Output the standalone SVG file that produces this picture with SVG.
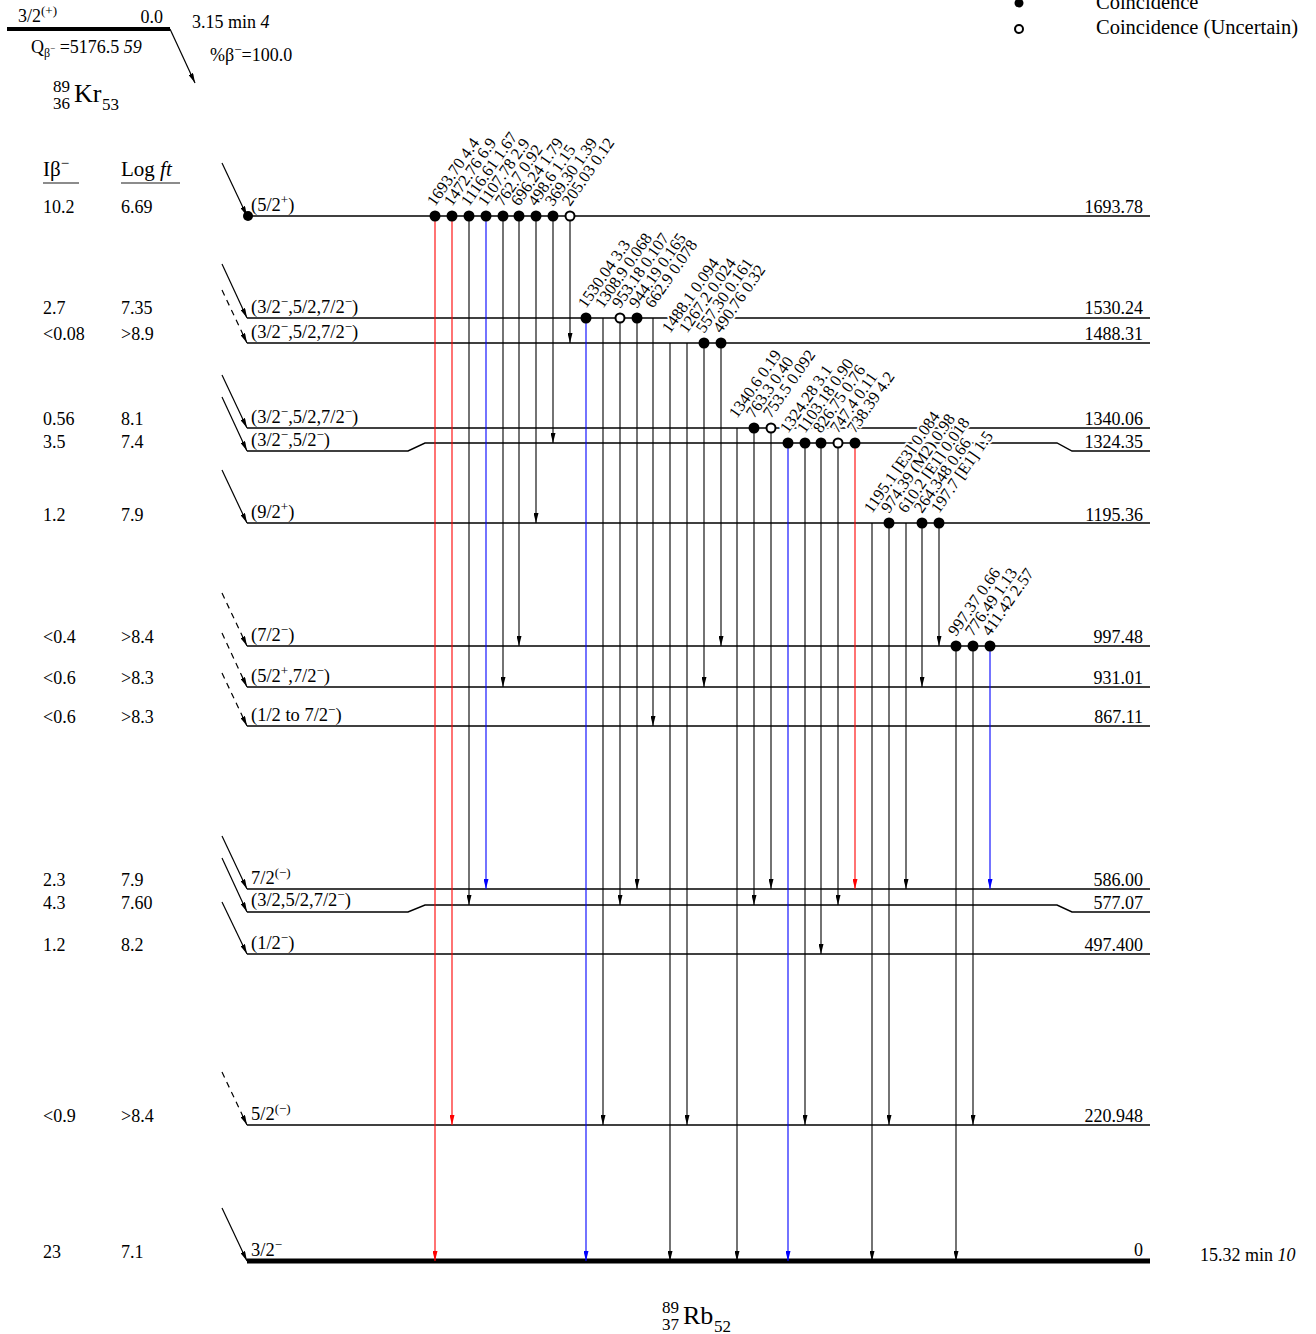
<svg xmlns="http://www.w3.org/2000/svg" width="1316" height="1334" viewBox="0 0 1316 1334">
<style>
text{font-family:"Liberation Serif","Times New Roman",serif;fill:#000}
.t{font-size:18px}
.h{font-size:21px}
.p{font-size:18px}
.sp{font-size:18.5px}
.su{font-size:13px}
.en{font-size:18px;text-anchor:end}
.gl{font-size:16.5px;stroke:#fff;stroke-width:4;paint-order:stroke;stroke-linejoin:round}
.lv{stroke:#000;stroke-width:1.4;fill:none}
.g{stroke:#000;stroke-width:1.1}
.gr{stroke:#f00;stroke-width:1.1}
.gb{stroke:#00f;stroke-width:1.1}
.b{stroke:#000;stroke-width:1.2}
.bd{stroke:#000;stroke-width:1.2;stroke-dasharray:6 5}
.cf{fill:#000}
.co{fill:#fff;stroke:#000;stroke-width:2}
</style>
<defs>
<marker id="ak" viewBox="0 0 10 5" refX="10" refY="2.5" markerWidth="10" markerHeight="5" markerUnits="userSpaceOnUse" orient="auto"><path d="M0,0 L10,2.5 L0,5 z" fill="#000"/></marker>
<marker id="ar" viewBox="0 0 10 5" refX="10" refY="2.5" markerWidth="10" markerHeight="5" markerUnits="userSpaceOnUse" orient="auto"><path d="M0,0 L10,2.5 L0,5 z" fill="#f00"/></marker>
<marker id="ab" viewBox="0 0 10 5" refX="10" refY="2.5" markerWidth="10" markerHeight="5" markerUnits="userSpaceOnUse" orient="auto"><path d="M0,0 L10,2.5 L0,5 z" fill="#00f"/></marker>
</defs>

<g id="parent">
<line x1="7" y1="29" x2="170" y2="29" stroke="#000" stroke-width="4"/>
<text class="p" x="18" y="22">3/2<tspan class="su" dy="-7">(+)</tspan></text>
<text class="p" x="163" y="23" text-anchor="end">0.0</text>
<text class="p" x="31" y="53">Q<tspan font-size="12" dy="4">β</tspan><tspan font-size="9" dy="-6">−</tspan><tspan dy="2"> =5176.5 </tspan><tspan font-style="italic">59</tspan></text>
<text class="p" x="192" y="28">3.15 min <tspan font-style="italic">4</tspan></text>
<text class="p" x="210" y="61">%β<tspan class="su" dy="-7">−</tspan><tspan dy="7">=100.0</tspan></text>
<text x="53" y="92" font-size="17">89</text>
<text x="53" y="109" font-size="17">36</text>
<text x="74" y="102" font-size="26">Kr</text>
<text x="102" y="110" font-size="17">53</text>
</g>

<g id="legend">
<circle cx="1019" cy="3" r="4.5" class="cf"/>
<text x="1096" y="9" font-size="20.5">Coincidence</text>
<circle cx="1019" cy="29" r="4" class="co"/>
<text x="1096" y="34" font-size="20.5">Coincidence (Uncertain)</text>
</g>

<g id="headers">
<text class="h" x="43" y="176">Iβ<tspan font-size="15" dy="-8">−</tspan></text>
<line x1="43" y1="183" x2="79" y2="183" stroke="#666" stroke-width="1.5"/>
<text class="h" x="121" y="176">Log <tspan font-style="italic">ft</tspan></text>
<line x1="121" y1="183" x2="180" y2="183" stroke="#666" stroke-width="1.5"/>
</g>

<g id="levels">
<g id="lvl-1693"><line class="lv" x1="247" y1="216" x2="1150" y2="216"/>
<text class="sp" x="251" y="211">(5/2<tspan class="su" dy="-7">+</tspan><tspan dy="7">)</tspan></text>
<text class="en" x="1143" y="213">1693.78</text><text class="t" x="43" y="213">10.2</text><text class="t" x="121" y="213">6.69</text></g>

<g id="lvl-1530"><line class="lv" x1="247" y1="318" x2="1150" y2="318"/>
<text class="sp" x="251" y="313">(3/2<tspan class="su" dy="-7">−</tspan><tspan dy="7">,5/2,7/2</tspan><tspan class="su" dy="-7">−</tspan><tspan dy="7">)</tspan></text>
<text class="en" x="1143" y="314">1530.24</text><text class="t" x="43" y="314">2.7</text><text class="t" x="121" y="314">7.35</text></g>

<g id="lvl-1488"><line class="lv" x1="247" y1="343" x2="1150" y2="343"/>
<text class="sp" x="251" y="338">(3/2<tspan class="su" dy="-7">−</tspan><tspan dy="7">,5/2,7/2</tspan><tspan class="su" dy="-7">−</tspan><tspan dy="7">)</tspan></text>
<text class="en" x="1143" y="340">1488.31</text><text class="t" x="43" y="340">&lt;0.08</text><text class="t" x="121" y="340">&gt;8.9</text></g>

<g id="lvl-1340"><line class="lv" x1="247" y1="428" x2="1150" y2="428"/>
<text class="sp" x="251" y="423">(3/2<tspan class="su" dy="-7">−</tspan><tspan dy="7">,5/2,7/2</tspan><tspan class="su" dy="-7">−</tspan><tspan dy="7">)</tspan></text>
<text class="en" x="1143" y="425">1340.06</text><text class="t" x="43" y="425">0.56</text><text class="t" x="121" y="425">8.1</text></g>

<g id="lvl-1324"><path class="lv" d="M247,451 H408 L425,443 H1057 L1072,451 H1150"/>
<text class="sp" x="251" y="446">(3/2<tspan class="su" dy="-7">−</tspan><tspan dy="7">,5/2</tspan><tspan class="su" dy="-7">−</tspan><tspan dy="7">)</tspan></text>
<text class="en" x="1143" y="448">1324.35</text><text class="t" x="43" y="448">3.5</text><text class="t" x="121" y="448">7.4</text></g>

<g id="lvl-1195"><line class="lv" x1="247" y1="523" x2="1150" y2="523"/>
<text class="sp" x="251" y="518">(9/2<tspan class="su" dy="-7">+</tspan><tspan dy="7">)</tspan></text>
<text class="en" x="1143" y="521">1195.36</text><text class="t" x="43" y="521">1.2</text><text class="t" x="121" y="521">7.9</text></g>

<g id="lvl-997"><line class="lv" x1="247" y1="646" x2="1150" y2="646"/>
<text class="sp" x="251" y="641">(7/2<tspan class="su" dy="-7">−</tspan><tspan dy="7">)</tspan></text>
<text class="en" x="1143" y="643">997.48</text><text class="t" x="43" y="643">&lt;0.4</text><text class="t" x="121" y="643">&gt;8.4</text></g>

<g id="lvl-931"><line class="lv" x1="247" y1="687" x2="1150" y2="687"/>
<text class="sp" x="251" y="682">(5/2<tspan class="su" dy="-7">+</tspan><tspan dy="7">,7/2</tspan><tspan class="su" dy="-7">−</tspan><tspan dy="7">)</tspan></text>
<text class="en" x="1143" y="684">931.01</text><text class="t" x="43" y="684">&lt;0.6</text><text class="t" x="121" y="684">&gt;8.3</text></g>

<g id="lvl-867"><line class="lv" x1="247" y1="726" x2="1150" y2="726"/>
<text class="sp" x="251" y="721">(1/2 to 7/2<tspan class="su" dy="-7">−</tspan><tspan dy="7">)</tspan></text>
<text class="en" x="1143" y="723">867.11</text><text class="t" x="43" y="723">&lt;0.6</text><text class="t" x="121" y="723">&gt;8.3</text></g>

<g id="lvl-586"><line class="lv" x1="247" y1="889" x2="1150" y2="889"/>
<text class="sp" x="251" y="884">7/2<tspan class="su" dy="-7">(−)</tspan></text>
<text class="en" x="1143" y="886">586.00</text><text class="t" x="43" y="886">2.3</text><text class="t" x="121" y="886">7.9</text></g>

<g id="lvl-577"><path class="lv" d="M247,912 H408 L425,905 H1057 L1072,912 H1150"/>
<text class="sp" x="251" y="906">(3/2,5/2,7/2<tspan class="su" dy="-7">−</tspan><tspan dy="7">)</tspan></text>
<text class="en" x="1143" y="909">577.07</text><text class="t" x="43" y="909">4.3</text><text class="t" x="121" y="909">7.60</text></g>

<g id="lvl-497"><line class="lv" x1="247" y1="954" x2="1150" y2="954"/>
<text class="sp" x="251" y="949">(1/2<tspan class="su" dy="-7">−</tspan><tspan dy="7">)</tspan></text>
<text class="en" x="1143" y="951">497.400</text><text class="t" x="43" y="951">1.2</text><text class="t" x="121" y="951">8.2</text></g>

<g id="lvl-220"><line class="lv" x1="247" y1="1125" x2="1150" y2="1125"/>
<text class="sp" x="251" y="1120">5/2<tspan class="su" dy="-7">(−)</tspan></text>
<text class="en" x="1143" y="1122">220.948</text><text class="t" x="43" y="1122">&lt;0.9</text><text class="t" x="121" y="1122">&gt;8.4</text></g>

<g id="lvl-0"><line x1="247" y1="1261" x2="1150" y2="1261" stroke="#000" stroke-width="5"/>
<text class="sp" x="251" y="1256">3/2<tspan class="su" dy="-7">−</tspan></text>
<text class="en" x="1143" y="1256">0</text><text class="t" x="43" y="1258">23</text><text class="t" x="121" y="1258">7.1</text>
<text class="t" x="1200" y="1261">15.32 min <tspan font-style="italic">10</tspan></text></g>
</g>

<g id="daughter">
<text x="662" y="1313" font-size="17">89</text>
<text x="662" y="1330" font-size="17">37</text>
<text x="683" y="1324" font-size="26">Rb</text>
<text x="714" y="1332" font-size="17">52</text>
</g>

<g id="connectors">
<line class="b" x1="170" y1="29" x2="195" y2="83" marker-end="url(#ak)"/>
<line class="b" x1="222" y1="163" x2="247" y2="216" marker-end="url(#ak)"/>
<circle class="cf" cx="248" cy="216" r="5"/>
<line class="b" x1="222" y1="264" x2="247" y2="318" marker-end="url(#ak)"/>
<line class="bd" x1="222" y1="290" x2="247" y2="343" marker-end="url(#ak)"/>
<line class="b" x1="222" y1="375" x2="247" y2="428" marker-end="url(#ak)"/>
<line class="b" x1="222" y1="397" x2="247" y2="451" marker-end="url(#ak)"/>
<line class="b" x1="222" y1="470" x2="247" y2="523" marker-end="url(#ak)"/>
<line class="bd" x1="222" y1="593" x2="247" y2="646" marker-end="url(#ak)"/>
<line class="bd" x1="222" y1="633" x2="247" y2="687" marker-end="url(#ak)"/>
<line class="bd" x1="222" y1="673" x2="247" y2="726" marker-end="url(#ak)"/>
<line class="b" x1="222" y1="836" x2="247" y2="889" marker-end="url(#ak)"/>
<line class="b" x1="222" y1="858" x2="247" y2="912" marker-end="url(#ak)"/>
<line class="b" x1="222" y1="902" x2="247" y2="954" marker-end="url(#ak)"/>
<line class="bd" x1="222" y1="1072" x2="247" y2="1125" marker-end="url(#ak)"/>
<line class="b" x1="222" y1="1208" x2="247" y2="1261" marker-end="url(#ak)"/>

<line class="gr" x1="435" y1="216" x2="435" y2="1261" marker-end="url(#ar)"/>
<line class="gr" x1="452" y1="216" x2="452" y2="1125" marker-end="url(#ar)"/>
<line class="g" x1="469" y1="216" x2="469" y2="905" marker-end="url(#ak)"/>
<line class="gb" x1="486" y1="216" x2="486" y2="889" marker-end="url(#ab)"/>
<line class="g" x1="503" y1="216" x2="503" y2="687" marker-end="url(#ak)"/>
<line class="g" x1="519" y1="216" x2="519" y2="646" marker-end="url(#ak)"/>
<line class="g" x1="536" y1="216" x2="536" y2="523" marker-end="url(#ak)"/>
<line class="g" x1="553" y1="216" x2="553" y2="443" marker-end="url(#ak)"/>
<line class="g" x1="570" y1="216" x2="570" y2="343" marker-end="url(#ak)"/>

<line class="gb" x1="586" y1="318" x2="586" y2="1261" marker-end="url(#ab)"/>
<line class="g" x1="603" y1="318" x2="603" y2="1125" marker-end="url(#ak)"/>
<line class="g" x1="620" y1="318" x2="620" y2="905" marker-end="url(#ak)"/>
<line class="g" x1="637" y1="318" x2="637" y2="889" marker-end="url(#ak)"/>
<line class="g" x1="653" y1="318" x2="653" y2="726" marker-end="url(#ak)"/>

<line class="g" x1="670" y1="343" x2="670" y2="1261" marker-end="url(#ak)"/>
<line class="g" x1="687" y1="343" x2="687" y2="1125" marker-end="url(#ak)"/>
<line class="g" x1="704" y1="343" x2="704" y2="687" marker-end="url(#ak)"/>
<line class="g" x1="721" y1="343" x2="721" y2="646" marker-end="url(#ak)"/>

<line class="g" x1="737" y1="428" x2="737" y2="1261" marker-end="url(#ak)"/>
<line class="g" x1="754" y1="428" x2="754" y2="905" marker-end="url(#ak)"/>
<line class="g" x1="771" y1="428" x2="771" y2="889" marker-end="url(#ak)"/>

<line class="gb" x1="788" y1="443" x2="788" y2="1261" marker-end="url(#ab)"/>
<line class="g" x1="805" y1="443" x2="805" y2="1125" marker-end="url(#ak)"/>
<line class="g" x1="821" y1="443" x2="821" y2="954" marker-end="url(#ak)"/>
<line class="g" x1="838" y1="443" x2="838" y2="905" marker-end="url(#ak)"/>
<line class="gr" x1="855" y1="443" x2="855" y2="889" marker-end="url(#ar)"/>

<line class="g" x1="872" y1="523" x2="872" y2="1261" marker-end="url(#ak)"/>
<line class="g" x1="889" y1="523" x2="889" y2="1125" marker-end="url(#ak)"/>
<line class="g" x1="906" y1="523" x2="906" y2="889" marker-end="url(#ak)"/>
<line class="g" x1="922" y1="523" x2="922" y2="687" marker-end="url(#ak)"/>
<line class="g" x1="939" y1="523" x2="939" y2="646" marker-end="url(#ak)"/>

<line class="g" x1="956" y1="646" x2="956" y2="1261" marker-end="url(#ak)"/>
<line class="g" x1="973" y1="646" x2="973" y2="1125" marker-end="url(#ak)"/>
<line class="gb" x1="990" y1="646" x2="990" y2="889" marker-end="url(#ab)"/>
</g>

<g id="gamma-labels">
<text class="gl" transform="translate(435,207) rotate(-55)">1693.70 4.4</text>
<text class="gl" transform="translate(452,207) rotate(-55)">1472.76 6.9</text>
<text class="gl" transform="translate(469,207) rotate(-55)">1116.61 1.67</text>
<text class="gl" transform="translate(486,207) rotate(-55)">1107.78 2.9</text>
<text class="gl" transform="translate(503,207) rotate(-55)">762.7 0.92</text>
<text class="gl" transform="translate(519,207) rotate(-55)">696.24 1.79</text>
<text class="gl" transform="translate(536,207) rotate(-55)">498.6 1.15</text>
<text class="gl" transform="translate(553,207) rotate(-55)">369.30 1.39</text>
<text class="gl" transform="translate(570,207) rotate(-55)">205.03 0.12</text>

<text class="gl" transform="translate(586,309) rotate(-55)">1530.04 3.3</text>
<text class="gl" transform="translate(603,309) rotate(-55)">1308.9 0.068</text>
<text class="gl" transform="translate(620,309) rotate(-55)">953.18 0.107</text>
<text class="gl" transform="translate(637,309) rotate(-55)">944.19 0.165</text>
<text class="gl" transform="translate(653,309) rotate(-55)">662.9 0.078</text>

<text class="gl" transform="translate(670,334) rotate(-55)">1488.1 0.094</text>
<text class="gl" transform="translate(687,334) rotate(-55)">1267.2 0.024</text>
<text class="gl" transform="translate(704,334) rotate(-55)">557.30 0.161</text>
<text class="gl" transform="translate(721,334) rotate(-55)">490.76 0.32</text>

<text class="gl" transform="translate(737,419) rotate(-55)">1340.6 0.19</text>
<text class="gl" transform="translate(754,419) rotate(-55)">763.3 0.40</text>
<text class="gl" transform="translate(771,419) rotate(-55)">753.5 0.092</text>

<text class="gl" transform="translate(788,434) rotate(-55)">1324.28 3.1</text>
<text class="gl" transform="translate(805,434) rotate(-55)">1103.18 0.90</text>
<text class="gl" transform="translate(821,434) rotate(-55)">826.75 0.76</text>
<text class="gl" transform="translate(838,434) rotate(-55)">747.4 0.11</text>
<text class="gl" transform="translate(855,434) rotate(-55)">738.39 4.2</text>

<text class="gl" transform="translate(872,514) rotate(-55)">1195.1 [E3] 0.084</text>
<text class="gl" transform="translate(889,514) rotate(-55)">974.39 (M2) 0.98</text>
<text class="gl" transform="translate(906,514) rotate(-55)">610.2 [E1] 0.018</text>
<text class="gl" transform="translate(922,514) rotate(-55)">264.348 0.66</text>
<text class="gl" transform="translate(939,514) rotate(-55)">197.7 [E1] 1.5</text>

<text class="gl" transform="translate(956,637) rotate(-55)">997.37 0.66</text>
<text class="gl" transform="translate(973,637) rotate(-55)">776.49 1.13</text>
<text class="gl" transform="translate(990,637) rotate(-55)">411.42 2.57</text>
</g>

<g id="coincidence-dots">
<circle class="cf" cx="435" cy="216" r="5.5"/><circle class="cf" cx="452" cy="216" r="5.5"/><circle class="cf" cx="469" cy="216" r="5.5"/>
<circle class="cf" cx="486" cy="216" r="5.5"/><circle class="cf" cx="503" cy="216" r="5.5"/><circle class="cf" cx="519" cy="216" r="5.5"/>
<circle class="cf" cx="536" cy="216" r="5.5"/><circle class="cf" cx="553" cy="216" r="5.5"/><circle class="co" cx="570" cy="216" r="4.5"/>
<circle class="cf" cx="586" cy="318" r="5.5"/><circle class="co" cx="620" cy="318" r="4.5"/><circle class="cf" cx="637" cy="318" r="5.5"/>
<circle class="cf" cx="704" cy="343" r="5.5"/><circle class="cf" cx="721" cy="343" r="5.5"/>
<circle class="cf" cx="754" cy="428" r="5.5"/><circle class="co" cx="771" cy="428" r="4.5"/>
<circle class="cf" cx="788" cy="443" r="5.5"/><circle class="cf" cx="805" cy="443" r="5.5"/><circle class="cf" cx="821" cy="443" r="5.5"/>
<circle class="co" cx="838" cy="443" r="4.5"/><circle class="cf" cx="855" cy="443" r="5.5"/>
<circle class="cf" cx="889" cy="523" r="5.5"/><circle class="cf" cx="922" cy="523" r="5.5"/><circle class="cf" cx="939" cy="523" r="5.5"/>
<circle class="cf" cx="956" cy="646" r="5.5"/><circle class="cf" cx="973" cy="646" r="5.5"/><circle class="cf" cx="990" cy="646" r="5.5"/>
</g>
</svg>
